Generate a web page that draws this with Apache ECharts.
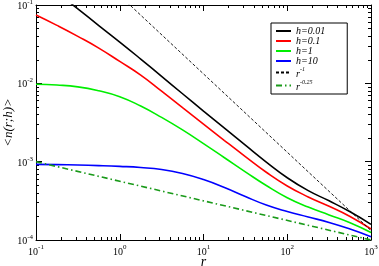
<!DOCTYPE html>
<html><head><meta charset="utf-8">
<script src="https://cdn.jsdelivr.net/npm/echarts@6/dist/echarts.min.js"></script>
<style>html,body{margin:0;padding:0;background:#fff}#c{width:379px;height:266px}</style>
</head><body><div id="c"></div>
<script>
// r values (shared grid for the four h curves)
const rGrid = [0.1, 0.178, 0.316, 0.562, 1, 1.78, 3.16, 5.62, 10, 17.8, 31.6, 56.2, 100, 178, 316, 562, 1000];
const nH001 = [0.2344, 0.1445, 0.08913, 0.0547, 0.03365, 0.02042, 0.0123, 0.007362, 0.004426, 0.002673, 0.001622, 0.0009886, 0.0006237, 0.0004266, 0.0003162, 0.0002291, 0.0001585];
const nH01  = [0.0745, 0.05495, 0.03981, 0.02818, 0.01905, 0.01274, 0.007943, 0.004898, 0.00302, 0.001862, 0.001161, 0.0007328, 0.0004898, 0.0003548, 0.0002692, 0.0001995, 0.000138];
const nH1   = [0.009727, 0.009506, 0.009016, 0.008035, 0.006761, 0.005129, 0.003673, 0.002541, 0.001698, 0.001122, 0.0007413, 0.0004955, 0.0003467, 0.000263, 0.0002089, 0.000166, 0.0001245];
const nH10  = [0.0009247, 0.0009162, 0.0009057, 0.0008913, 0.000871, 0.0008424, 0.0007943, 0.0007063, 0.0005916, 0.0004677, 0.0003589, 0.0002799, 0.0002312, 0.0001968, 0.0001675, 0.000138, 0.0001102];
// reference power laws
const rPowM1 = [1, 1000];
const nPowM1 = [0.132, 0.000132];
const rPowM025 = [0.1, 1000];
const nPowM025 = [0.001, 0.0001];
// tick labels
const xMajor = [0.1, 1, 10, 100, 1000];
const yMajor = [0.0001, 0.001, 0.01, 0.1];
const minorMult = [2, 3, 4, 5, 6, 7, 8, 9];

const seriesNames = ['h=0.01', 'h=0.1', 'h=1', 'h=10', 'r^-1', 'r^-0.25'];
const seriesColors = ['#000000', '#ff0000', '#00ee00', '#0000ff', '#000000', '#1a9a1a'];

function minorOf(majors) {
  const out = [];
  for (let i = 0; i < majors.length - 1; i++) minorMult.forEach(m => out.push(+(majors[i] * m).toPrecision(6)));
  return out;
}
const xMinor = minorOf(xMajor);
const yMinor = minorOf(yMajor);

const FONT = 'Liberation Serif';
const lblRich = {
  b: {fontFamily: FONT, fontSize: 10, color: '#000', lineHeight: 13, verticalAlign: 'bottom'},
  s: {fontFamily: FONT, fontSize: 7, color: '#000', lineHeight: 13, verticalAlign: 'top'}
};
function powLabel(v) {
  const e = Math.round(Math.log10(v));
  return '{b|10}{s|' + e + '}';
}

function mkAxis(kind, pos, values, len, labels, isMain, extra) {
  const isX = kind === 'x';
  const ax = {
    type: 'log', logBase: 10, position: pos,
    min: isX ? 0.1 : 0.0001, max: isX ? 1000 : 0.1,
    axisLine: {show: isMain, lineStyle: {color: '#000', width: 1}},
    axisTick: {show: true, inside: true, length: len, customValues: values, lineStyle: {color: '#000', width: 1}},
    axisLabel: labels ? {show: true, customValues: values, formatter: powLabel, rich: lblRich, margin: isX ? 4 : 3} : {show: false},
    splitLine: {show: false},
    minorTick: {show: false}
  };
  return Object.assign(ax, extra || {});
}

const xAxes = [
  mkAxis('x', 'bottom', xMajor, 6, true, true, {
    name: 'r', nameLocation: 'middle', nameGap: 15, nameMoveOverlap: false,
    nameTextStyle: {fontFamily: FONT, fontStyle: 'italic', fontSize: 14, color: '#000'}
  }),
  mkAxis('x', 'bottom', xMinor, 3, false, false),
  mkAxis('x', 'top', xMajor, 6, false, true),
  mkAxis('x', 'top', xMinor, 3, false, false)
];
const yAxes = [
  mkAxis('y', 'left', yMajor, 6, true, true, {
    name: '<n(r;h)>', nameLocation: 'middle', nameGap: 21, nameMoveOverlap: false,
    nameTextStyle: {fontFamily: FONT, fontStyle: 'italic', fontSize: 13, color: '#000'}
  }),
  mkAxis('y', 'left', yMinor, 3, false, false),
  mkAxis('y', 'right', yMajor, 6, false, true),
  mkAxis('y', 'right', yMinor, 3, false, false)
];

function pairs(xs, ys) { return xs.map((x, i) => [x, ys[i]]); }

const curveData = [pairs(rGrid, nH001), pairs(rGrid, nH01), pairs(rGrid, nH1), pairs(rGrid, nH10),
                   pairs(rPowM1, nPowM1), pairs(rPowM025, nPowM025)];
const lineStyles = [
  {width: 1.6}, {width: 1.6}, {width: 1.6}, {width: 1.6},
  {width: 0.9, type: [3, 2]},
  {width: 1.6, type: [6, 3, 1.5, 3]}
];

const series = seriesNames.map((nm, i) => ({
  name: nm, type: 'line', xAxisIndex: 0, yAxisIndex: 0,
  data: curveData[i], symbol: 'none', smooth: i < 4 ? 0.5 : false, clip: true,
  lineStyle: Object.assign({color: seriesColors[i]}, lineStyles[i]),
  itemStyle: {color: seriesColors[i]}, animation: false
}));

const chart = echarts.init(document.getElementById('c'), null, {renderer: 'canvas'});
chart.setOption({
  backgroundColor: '#fff',
  animation: false,
  grid: {left: 36, right: 8, top: 5, bottom: 26, containLabel: false, outerBoundsMode: 'none'},
  xAxis: xAxes,
  yAxis: yAxes,
  legend: {
    orient: 'vertical', left: 271, top: 23,
    backgroundColor: '#fff', borderColor: '#000', borderWidth: 1, borderRadius: 0,
    padding: [3, 22, 2, 4], itemGap: 0, itemWidth: 15, itemHeight: 8,
    itemStyle: {opacity: 0},
    data: seriesNames,
    formatter: function (n) {
      if (n === 'r^-1') return '{i|r}{s|-1}';
      if (n === 'r^-0.25') return '{i|r}{s|-0.25}';
      return '{i|' + n + '}';
    },
    textStyle: {
      fontFamily: FONT, fontStyle: 'italic', fontSize: 10, color: '#000',
      rich: {
        i: {fontFamily: FONT, fontStyle: 'italic', fontSize: 10, color: '#000', lineHeight: 10, verticalAlign: 'bottom'},
        s: {fontFamily: FONT, fontStyle: 'italic', fontSize: 6, color: '#000', lineHeight: 13, verticalAlign: 'top'}
      }
    }
  },
  series: series
});
</script></body></html>
